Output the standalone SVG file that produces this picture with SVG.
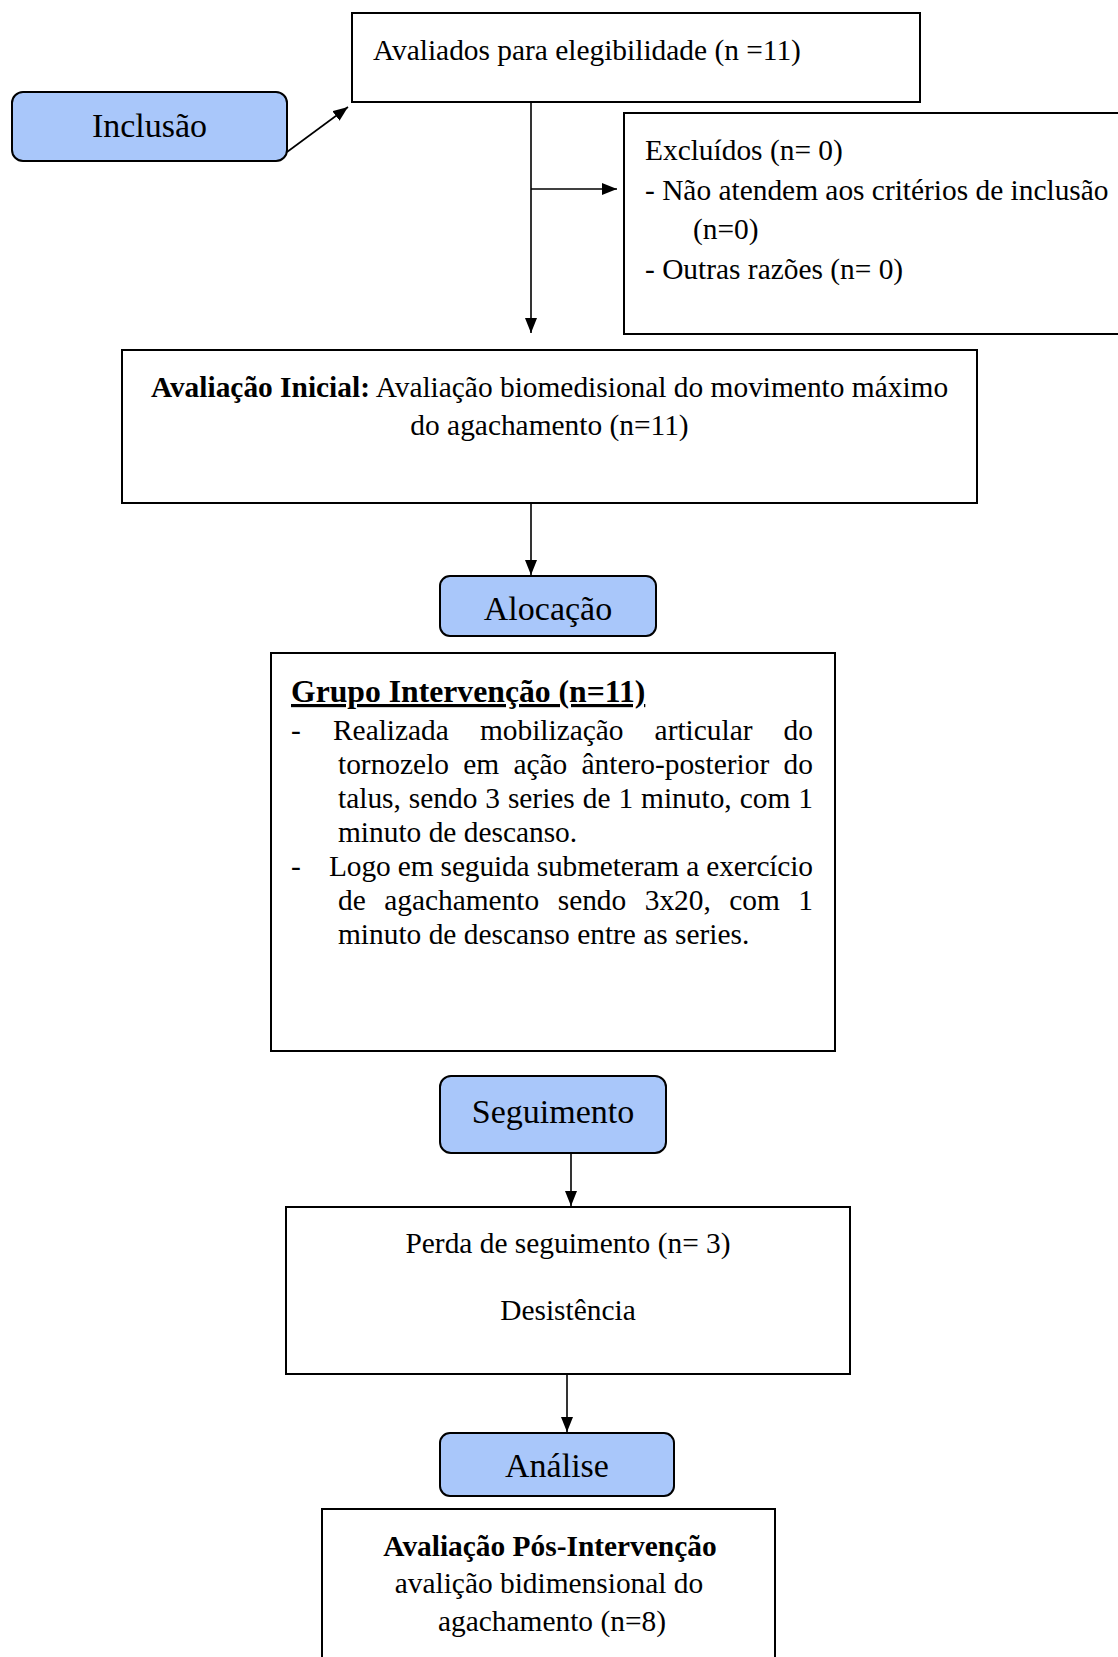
<svg xmlns="http://www.w3.org/2000/svg" width="1118" height="1657" viewBox="0 0 1118 1657">
<style>
.box{fill:#ffffff;stroke:#000;stroke-width:2}
.pill{fill:#a9c7fa;stroke:#000;stroke-width:2}
.t{font-family:"Liberation Serif","Times New Roman",serif;font-size:29.4px;fill:#000}
.big{font-family:"Liberation Serif","Times New Roman",serif;font-size:34px;fill:#000}
.c{text-anchor:middle}
.e{text-anchor:end}
.b{font-weight:bold}
.conn{stroke:#000;stroke-width:1.6;fill:none;marker-end:url(#arr)}
</style>
<defs>
<marker id="arr" markerUnits="userSpaceOnUse" markerWidth="15" markerHeight="12" refX="15" refY="6" orient="auto">
<path d="M0,0 L15,6 L0,12 z" fill="#000"/>
</marker>
</defs>
<rect width="1118" height="1657" fill="#fff"/>
<g id="connectors">
<line class="conn" x1="287" y1="152" x2="348" y2="107"/>
<line class="conn" x1="531" y1="102" x2="531" y2="333"/>
<line class="conn" x1="531" y1="189" x2="617" y2="189"/>
<line class="conn" x1="531" y1="503" x2="531" y2="575"/>
<line class="conn" x1="571" y1="1153" x2="571" y2="1206"/>
<line class="conn" x1="567" y1="1374" x2="567" y2="1432"/>
</g>
<g id="inclusao">
<rect class="pill" x="12" y="92" width="275" height="69" rx="11"/>
<text class="big c" x="149.5" y="137">Inclusão</text>
</g>
<g id="avaliados">
<rect class="box" x="352" y="13" width="568" height="89"/>
<text class="t" x="373" y="60">Avaliados para elegibilidade (n =11)</text>
</g>
<g id="excluidos">
<rect class="box" x="624" y="113" width="510" height="221"/>
<text class="t" x="645" y="160">Excluídos (n= 0)</text>
<text class="t" x="645" y="200">- Não atendem aos critérios de inclusão</text>
<text class="t" x="693" y="239">(n=0)</text>
<text class="t" x="645" y="279">- Outras razões (n= 0)</text>
</g>
<g id="avaliacao-inicial">
<rect class="box" x="122" y="350" width="855" height="153"/>
<text class="t c" x="549.5" y="397"><tspan class="b">Avaliação Inicial:</tspan> Avaliação biomedisional do movimento máximo</text>
<text class="t c" x="549.5" y="435">do agachamento (n=11)</text>
</g>
<g id="alocacao">
<rect class="pill" x="440" y="576" width="216" height="60" rx="10"/>
<text class="big c" x="548" y="620">Alocação</text>
</g>
<g id="grupo">
<rect class="box" x="271" y="653" width="564" height="398"/>
<text class="t b" x="291" y="702" style="font-size:31.7px" text-decoration="underline">Grupo Intervenção (n=11)</text>
<text class="t" x="291" y="740">-</text>
<text class="t" y="740"><tspan x="333">Realizada</tspan><tspan x="479.9">mobilização</tspan><tspan x="654.6">articular</tspan></text>
<text class="t e" x="813" y="740">do</text>
<text class="t" y="774"><tspan x="338">tornozelo</tspan><tspan x="463.3">em</tspan><tspan x="513.4">ação</tspan><tspan x="581.5">ântero-posterior</tspan></text>
<text class="t e" x="813" y="774">do</text>
<text class="t" y="808"><tspan x="338">talus,</tspan><tspan x="408.8">sendo</tspan><tspan x="485.3">3</tspan><tspan x="507.9">series</tspan><tspan x="582.8">de</tspan><tspan x="618.5">1</tspan><tspan x="641.1">minuto,</tspan><tspan x="739.7">com</tspan></text>
<text class="t e" x="813" y="808">1</text>
<text class="t" x="338" y="842">minuto de descanso.</text>
<text class="t" x="291" y="876">-</text>
<text class="t" x="329" y="876" textLength="484" lengthAdjust="spacing">Logo em seguida submeteram a exercício</text>
<text class="t" y="910"><tspan x="338">de</tspan><tspan x="384.2">agachamento</tspan><tspan x="557.7">sendo</tspan><tspan x="644.7">3x20,</tspan><tspan x="729.3">com</tspan></text>
<text class="t e" x="813" y="910">1</text>
<text class="t" x="338" y="944">minuto de descanso entre as series.</text>
</g>
<g id="seguimento">
<rect class="pill" x="440" y="1076" width="226" height="77" rx="11"/>
<text class="big c" x="553" y="1123">Seguimento</text>
</g>
<g id="perda">
<rect class="box" x="286" y="1207" width="564" height="167"/>
<text class="t c" x="568" y="1253">Perda de seguimento (n= 3)</text>
<text class="t c" x="568" y="1320">Desistência</text>
</g>
<g id="analise">
<rect class="pill" x="440" y="1433" width="234" height="63" rx="10"/>
<text class="big c" x="557" y="1477">Análise</text>
</g>
<g id="pos">
<rect class="box" x="322" y="1509" width="453" height="170"/>
<text class="t c b" x="550" y="1556">Avaliação Pós-Intervenção</text>
<text class="t c" x="549" y="1593">avalição bidimensional do</text>
<text class="t c" x="552" y="1631">agachamento (n=8)</text>
</g>
</svg>
